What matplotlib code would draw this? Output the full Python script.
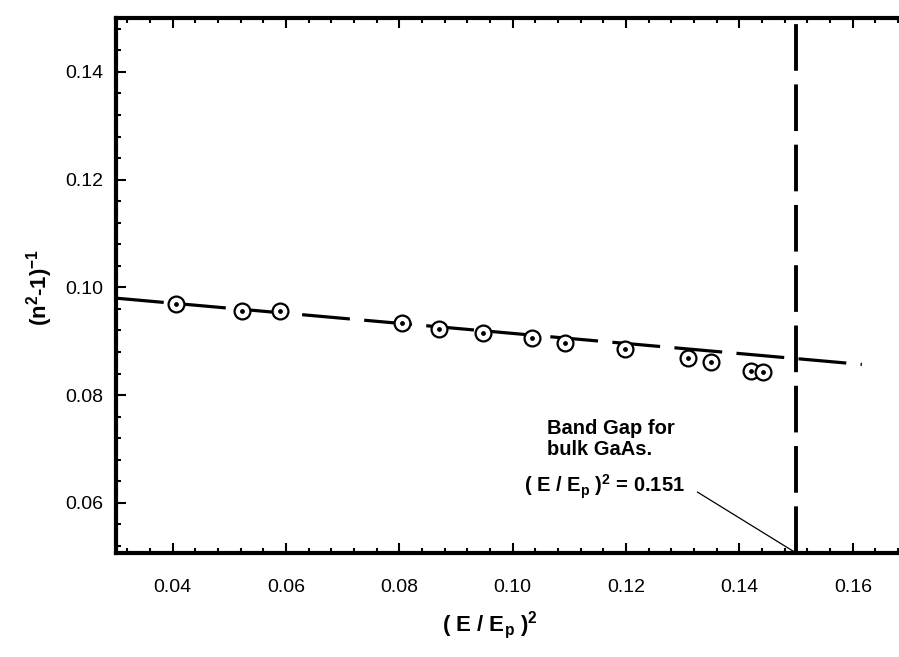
import matplotlib
matplotlib.use("Agg")
import matplotlib.pyplot as plt
from matplotlib.ticker import MultipleLocator

plt.rcParams['font.family'] = ['Liberation Sans', 'DejaVu Sans']

# measured points, (E/Ep)^2 vs (n^2-1)^-1
x_data = [0.0405, 0.0522, 0.0590, 0.0804, 0.0869, 0.0947, 0.1034,
          0.1092, 0.1198, 0.1310, 0.1349, 0.1421, 0.1441]
y_data = [0.0970, 0.0957, 0.0956, 0.0933, 0.0922, 0.0915, 0.0906,
          0.0896, 0.0885, 0.0869, 0.0861, 0.0844, 0.0843]

# linear fit drawn as long dashes
fit_x = [0.030, 0.1616]
fit_y = [0.0980, 0.0857]

# band gap position
gap_x = 0.150
gap_label = "0.151"

x_ticks = [0.04, 0.06, 0.08, 0.10, 0.12, 0.14, 0.16]
y_ticks = [0.06, 0.08, 0.10, 0.12, 0.14]

fig = plt.figure(figsize=(8.99, 6.57), dpi=100)
W, H = 899, 657
# axes spans past the right edge of the picture (cropped scan)
left_px, right_px, top_px, bot_px = 116, 909.5, 18, 553
ax = fig.add_axes([left_px / W, 1 - bot_px / H,
                   (right_px - left_px) / W, (bot_px - top_px) / H])
ax.set_xlim(0.03, 0.17)
ax.set_ylim(0.0507, 0.15)

ax.plot(fit_x, fit_y, color='black', lw=2.3, dashes=(15, 4.5), dash_capstyle='butt')
ax.axvline(gap_x, color='black', lw=2.8, dashes=(12, 3.5))

ax.scatter(x_data, y_data, s=130, facecolors='white', edgecolors='black',
           linewidths=1.6, zorder=3)
ax.scatter(x_data, y_data, s=6, color='black', zorder=4)

# annotation
ax.text(0.1060, 0.0718, "Band Gap for\nbulk GaAs.", fontsize=14.5, fontweight='bold',
        ha='left', va='center', linespacing=1.15)
ax.text(0.1019, 0.0630, r"( E / E$_\mathregular{p}$ )$^\mathregular{2}$ = " + gap_label,
        fontsize=14.5, fontweight='bold', ha='left', va='center')
ax.plot([0.1326, gap_x], [0.0620, 0.0507], color='black', lw=0.9, clip_on=False)

ax.set_xticks(x_ticks)
ax.set_yticks(y_ticks)
ax.set_xticklabels([f"{v:.2f}" for v in x_ticks])
ax.set_yticklabels([f"{v:.2f}" for v in y_ticks])
ax.xaxis.set_minor_locator(MultipleLocator(0.004))
ax.yaxis.set_minor_locator(MultipleLocator(0.004))
ax.tick_params(which='both', direction='in', top=True, right=True, width=1.5)
ax.tick_params(which='major', length=7, labelsize=14)
ax.tick_params(which='minor', length=3.5)
ax.tick_params(axis='x', pad=19)
ax.tick_params(axis='y', pad=9)

for s in ax.spines.values():
    s.set_linewidth(3)

fig.text(490 / W, 1 - 625 / H, r"( E / E$_\mathregular{p}$ )$^\mathregular{2}$",
         fontsize=16, fontweight='bold', ha='center', va='center')
fig.text(40 / W, 1 - 287 / H, r"(n$^\mathregular{2}$-1)$^\mathregular{-1}$",
         fontsize=16, fontweight='bold', ha='center', va='center', rotation=90)

fig.savefig("out.png", dpi=100)
